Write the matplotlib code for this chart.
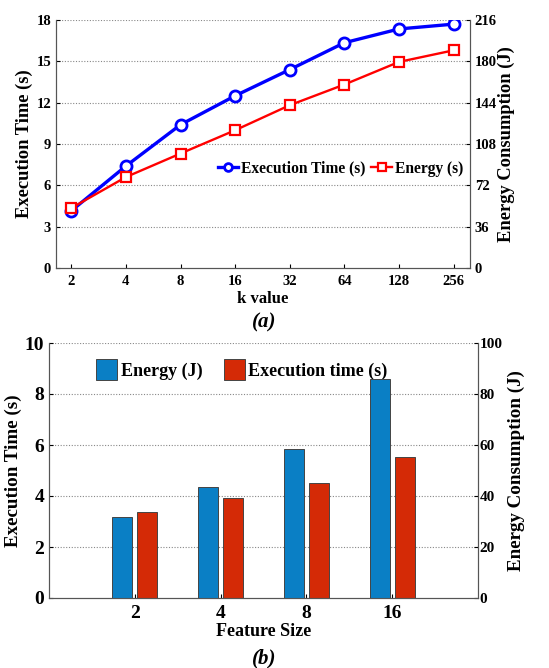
import matplotlib
matplotlib.use("Agg")
import matplotlib.pyplot as plt
import numpy as np

plt.rcParams['font.family'] = ['Liberation Serif', 'DejaVu Serif']
plt.rcParams['font.weight'] = 'bold'

# ---- data (a)
k_labels = ['2', '4', '8', '16', '32', '64', '128', '256']
exec_time_a = [4.15, 7.4, 10.4, 12.5, 14.4, 16.35, 17.35, 17.7]
energy_a = [52.2, 79.2, 99.7, 120.0, 141.8, 159.8, 179.5, 189.6]

# ---- data (b)
feat_labels = ['2', '4', '8', '16']
energy_b = [31.6, 43.7, 58.6, 85.8]
exec_time_b = [3.38, 3.94, 4.5, 5.53]

W, H = 549, 668
fig = plt.figure(figsize=(W / 100, H / 100), dpi=100)

def ax_rect(l, r, t, b):
    return [l / W, 1 - b / H, (r - l) / W, (b - t) / H]

def fx(px, l, r):
    return (px - l) / (r - l)

grid_kw = dict(color='#888888', linestyle=(0, (1, 1.5)), linewidth=0.8)

# ================= (a)
L, R, T, B = 56, 470, 20, 268
ax1 = fig.add_axes(ax_rect(L, R, T, B))
x = np.arange(len(k_labels))
ax1.set_xlim(-0.28, 7.3)
ax1.set_ylim(0, 18)
ax1.set_yticks(np.arange(0, 19, 3))
ax1.set_xticks(x)
ax1.set_xticklabels(k_labels)
for yv in np.arange(3, 19, 3):
    ax1.axhline(yv, **grid_kw, zorder=0)
ax2 = ax1.twinx()
ax2.set_ylim(0, 216)
ax2.set_yticks(np.arange(0, 217, 36))
l1, = ax1.plot(x, exec_time_a, '-o', color='#0000ff', lw=2.4, ms=8,
               mfc='white', mew=2, label='Execution Time (s)', zorder=3)
l2, = ax2.plot(x, energy_a, '-s', color='#ff0000', lw=1.7, ms=7.5,
               mfc='white', mew=1.6, label='Energy (s)', zorder=3)
for a in (ax1, ax2):
    a.spines['top'].set_visible(False)
    a.tick_params(direction='in', labelsize=10.5, length=3, width=0.8)
    for s in a.spines.values():
        s.set_color('#555555')
ax1.tick_params(axis='x', pad=5)
ax1.set_ylabel('Execution Time (s)', fontsize=13.3, fontweight='bold')
ax1.yaxis.set_label_coords(fx(33, L, R), 0.5)
ax2.set_ylabel('Energy Consumption (J)', fontsize=13.3, fontweight='bold')
ax2.yaxis.set_label_coords(fx(498, L, R), 0.5)
ax1.set_xlabel('k value', fontsize=12, fontweight='bold', labelpad=2)
leg = ax1.legend([l1, l2], ['Execution Time (s)', 'Energy (s)'], ncol=2,
                 loc='center right', bbox_to_anchor=(1.017, 0.4),
                 frameon=False, fontsize=11.2, handlelength=1.3, handletextpad=0.2,
                 columnspacing=0.4, markerscale=0.7)
fig.text(264 / W, 1 - 322 / H, '(a)', ha='center', va='center',
         fontsize=15, fontweight='bold', fontstyle='italic')

# ================= (b)
L2, R2, T2, B2 = 49, 478, 343, 598
bx1 = fig.add_axes(ax_rect(L2, R2, T2, B2))
xb = np.arange(len(feat_labels))
bx1.set_xlim(-1, 4)
bx1.set_ylim(0, 10)
bx1.set_yticks(np.arange(0, 11, 2))
bx1.set_xticks(xb)
bx1.set_xticklabels(feat_labels)
for yv in np.arange(2, 11, 2):
    bx1.axhline(yv, **grid_kw, zorder=0)
bx2 = bx1.twinx()
bx2.set_ylim(0, 100)
bx2.set_yticks(np.arange(0, 101, 20))
bw = 0.235
b1 = bx2.bar(xb - 0.145, energy_b, width=bw, color='#0a7fc5',
             edgecolor='#444444', linewidth=0.7, label='Energy (J)', zorder=2)
b2 = bx1.bar(xb + 0.145, exec_time_b, width=bw, color='#d42a06',
             edgecolor='#444444', linewidth=0.7, label='Execution time (s)', zorder=2)
for a in (bx1, bx2):
    a.spines['top'].set_visible(False)
    for s in a.spines.values():
        s.set_color('#555555')
    a.tick_params(direction='in', length=3, width=0.8)
bx1.tick_params(axis='y', labelsize=14)
bx1.tick_params(axis='x', labelsize=14, pad=5)
bx2.tick_params(axis='y', labelsize=11, pad=1)
bx1.set_ylabel('Execution Time (s)', fontsize=13.7, fontweight='bold')
bx1.yaxis.set_label_coords(fx(22, L2, R2), 0.5)
bx2.set_ylabel('Energy Consumption (J)', fontsize=13.7, fontweight='bold')
bx2.yaxis.set_label_coords(fx(508, L2, R2), 0.5)
bx1.set_xlabel('Feature Size', fontsize=13, fontweight='bold', labelpad=1)
bx1.legend([b1, b2], ['Energy (J)', 'Execution time (s)'], ncol=2,
           loc='upper left', bbox_to_anchor=(0.072, 1.0), frameon=False,
           fontsize=13, handlelength=1.15, handleheight=1.4, handletextpad=0.2,
           columnspacing=1.2)
fig.text(264 / W, 1 - 658 / H, '(b)', ha='center', va='center',
         fontsize=15, fontweight='bold', fontstyle='italic')

fig.savefig('out.png', dpi=100)
